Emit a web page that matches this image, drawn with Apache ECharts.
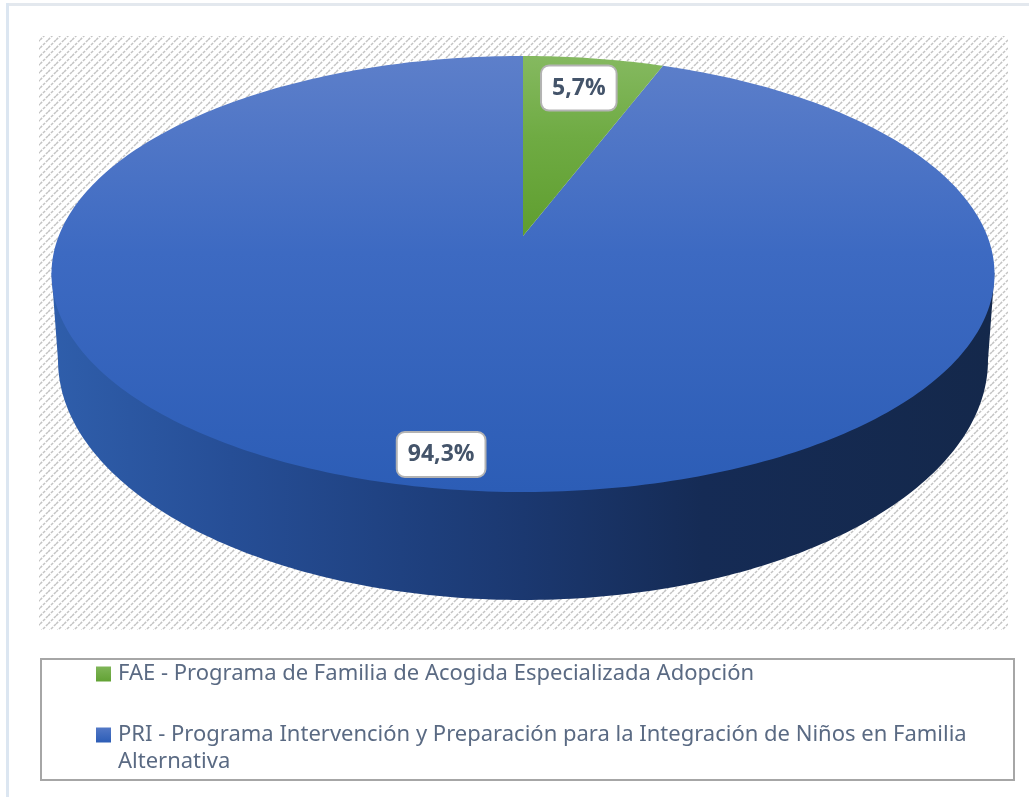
<!DOCTYPE html>
<html><head><meta charset="utf-8">
<style>html,body{margin:0;padding:0;background:#fff}#c{width:1029px;height:797px}</style>
<script src="https://cdn.jsdelivr.net/npm/echarts@6/dist/echarts.min.js"></script>
</head><body><div id="c"></div>
<script>
const categories = ['FAE - Programa de Familia de Acogida Especializada Adopción',
                    'PRI - Programa Intervención y Preparación para la Integración de Niños en Familia'];
const wrappedLine = 'Alternativa';
const values = [5.7, 94.3];
const labels = ['5,7%', '94,3%'];

// Perspective disc: centre apex, half sizes and tilt factor
const P = {cx: 523, cy: 236, a: 464.3, b: 211.4, k: 0.1743};
const LOW = {cx: 523, cy: 360, rx: 465, ry: 240};
const labelRadial = [0.81, 0.89];
const labelShift = [-3, 5];
const total = values.reduce((s, v) => s + v, 0);

function project(f, ang) {
  const u = f * Math.sin(ang), v = f * Math.cos(ang), d = 1 + P.k * v;
  return [P.cx + P.a * u / d, P.cy - P.b * v / d];
}
function grad(x, y, x2, y2, stops) {
  return {type: 'linear', x, y, x2, y2, colorStops: stops.map((c, i) => ({offset: c[0], color: c[1]}))};
}
const blueTop = grad(0, 0, 0, 1, [[0, '#5d7fca'], [0.45, '#3d6ac2'], [1, '#2c5db6']]);
const greenTop = grad(0, 0, 0, 1, [[0, '#85b960'], [0.45, '#6fab43'], [1, '#5f9e2f']]);
const swatch = [grad(0, 0, 0, 1, [[0, '#7fb558'], [1, '#62a234']]), grad(0, 0, 0, 1, [[0, '#5378c6'], [1, '#2c5db6']])];
const wallFill = {type: 'linear', global: true, x: 52, y: 0, x2: 995, y2: 0, colorStops: [
  {offset: 0, color: '#2f5eab'}, {offset: 0.19, color: '#264e96'}, {offset: 0.37, color: '#1f4180'},
  {offset: 0.5, color: '#1b3870'}, {offset: 0.69, color: '#152b55'}, {offset: 1, color: '#14284b'}]};

function wallPoints() {
  const pts = [];
  for (let i = 0; i <= 180; i++) {
    const t = Math.PI * i / 180;
    pts.push([LOW.cx - LOW.rx * Math.cos(t), LOW.cy + LOW.ry * Math.sin(t)]);
  }
  pts.push(project(1, Math.PI / 2 + 0.17));
  pts.push(project(1, -Math.PI / 2 - 0.17));
  return pts;
}
function makeRender(idx) {
  return function (params, api) {
    const before = values.slice(0, idx).reduce((s, v) => s + v, 0);
    const val = api.value(0);
    const a0 = before / total * Math.PI * 2, a1 = (before + val) / total * Math.PI * 2;
    const pts = [project(0, 0)];
    const n = Math.max(8, Math.ceil((a1 - a0) * 60));
    for (let i = 0; i <= n; i++) pts.push(project(1, a0 + (a1 - a0) * i / n));
    const mid = (a0 + a1) / 2, lp = project(labelRadial[idx], mid);
    const children = [];
    if (idx === 1) children.push({type: 'polygon', shape: {points: wallPoints()}, style: {fill: wallFill}, silent: true});
    children.push({type: 'polygon', shape: {points: pts}, style: {fill: idx === 0 ? greenTop : blueTop}});
    children.push({type: 'text', x: lp[0] + labelShift[idx], y: lp[1], z2: 20, style: {
      text: labels[idx], x: 0, y: 0, align: 'center', verticalAlign: 'middle',
      font: 'bold 23px "Open Sans", sans-serif', fill: '#44546a',
      backgroundColor: '#fff', borderColor: '#b3b3b3', borderWidth: 2, borderRadius: 7,
      padding: [10, 10, 10, 10]}});
    return {type: 'group', children};
  };
}

const tile = document.createElement('canvas');
tile.width = 8; tile.height = 8;
const g = tile.getContext('2d');
g.fillStyle = '#fff'; g.fillRect(0, 0, 8, 8);
g.strokeStyle = '#c4c4c4'; g.lineWidth = 1.5;
g.setLineDash([3, 1.2]);
[[-8, 8, 8, -8], [0, 8, 8, 0], [0, 16, 16, 0]].forEach(l => { g.beginPath(); g.moveTo(l[0], l[1]); g.lineTo(l[2], l[3]); g.stroke(); });

const chart = echarts.init(document.getElementById('c'), null, {renderer: 'canvas'});
chart.setOption({
  animation: false,
  backgroundColor: '#fff',
  legend: {
    orient: 'vertical', left: 96, top: 660, padding: 0, itemWidth: 15, itemHeight: 15, itemGap: 33,
    selectedMode: false, icon: 'rect',
    data: categories,
    textStyle: {fontFamily: '"Noto Sans", sans-serif', fontSize: 22, color: '#5a6a83', lineHeight: 28, padding: [0, 0, 0, 2]}
  },
  graphic: [
    {type: 'rect', z: -10, shape: {x: 6, y: 3, width: 1023, height: 3}, style: {fill: '#e3e8ee'}},
    {type: 'rect', z: -10, shape: {x: 6, y: 3, width: 3, height: 794}, style: {fill: '#dce6f1'}},
    {type: 'rect', z: -9, shape: {x: 39, y: 36, width: 969, height: 594}, style: {fill: {image: tile, repeat: 'repeat'}}},
    {type: 'rect', z: -9, shape: {x: 41, y: 659, width: 973, height: 121}, style: {fill: '#fff', stroke: '#a6a6a6', lineWidth: 2}},
    {type: 'text', z: 5, x: 118, y: 751, style: {text: wrappedLine, font: '22px "Noto Sans", sans-serif', fill: '#5a6a83'}}
  ],
  series: [
    {type: 'custom', name: categories[0], coordinateSystem: 'none', z: 3, data: [[values[0]]], renderItem: makeRender(0), itemStyle: {color: swatch[0]}, silent: true},
    {type: 'custom', name: categories[1], coordinateSystem: 'none', z: 2, data: [[values[1]]], renderItem: makeRender(1), itemStyle: {color: swatch[1]}, silent: true}
  ]
});
</script></body></html>
